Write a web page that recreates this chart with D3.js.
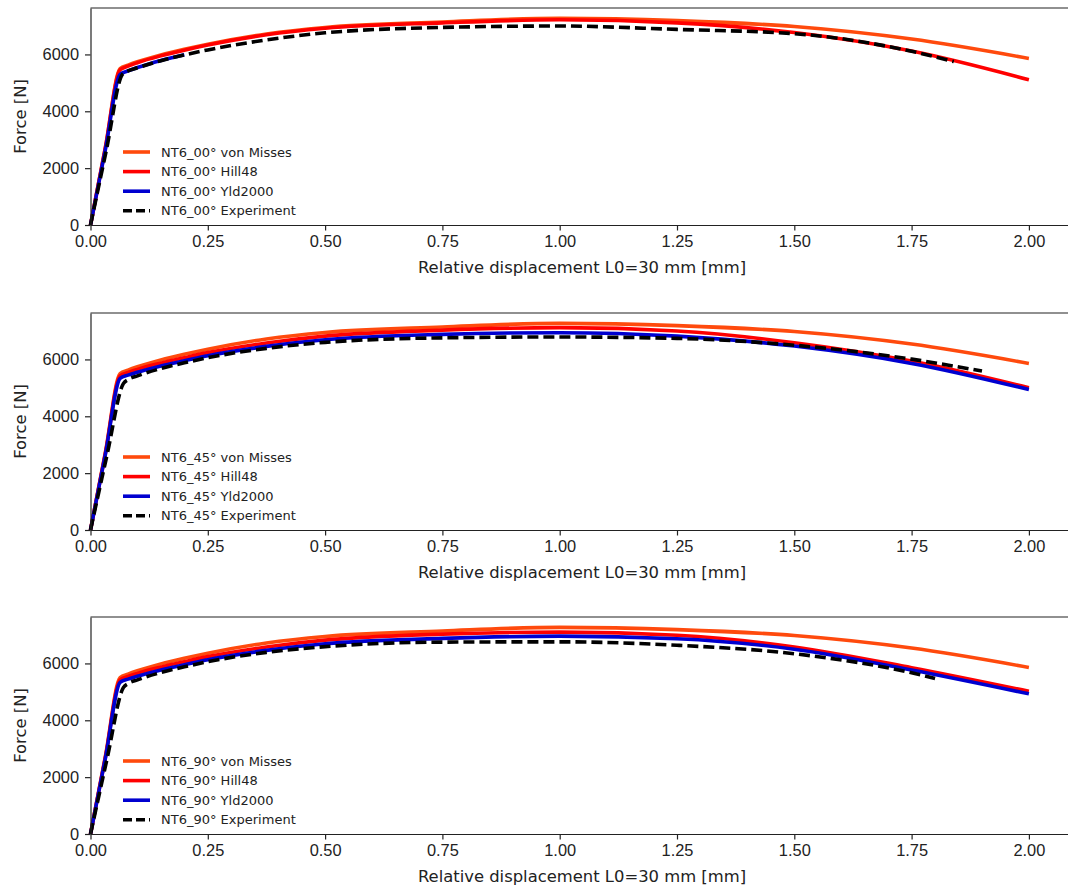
<!DOCTYPE html>
<html>
<head>
	<title>NT6 Force - displacement</title>
	<style type="text/css">
		body {
			margin: 0;
			background: #fff;
		}

		svg {
			display: block;
			font-family: "DejaVu Sans", sans-serif;
		}

		.axis text {
			font-size: 16.4px;
			fill: #222;
		}

		.axis path, .axis line {
			stroke: #222;
			stroke-width: 1.2px;
		}

		.label {
			font-size: 16.4px;
			fill: #222;
		}

		.legend text {
			font-size: 13px;
			fill: #222;
		}

		.curve {
			fill: none;
			stroke-width: 3.6px;
			stroke-linejoin: round;
		}
	</style>
	<script src="https://d3js.org/d3.v7.min.js"></script>
</head>
<body>
<script type="text/javascript">
	// displacement points of the simulations [mm]
	var xModel = [0, 0.032, 0.063, 0.08, 0.1, 0.15, 0.2, 0.25, 0.375, 0.5, 0.75, 1.0, 1.25, 1.5, 1.75, 2.0];

	// von Misses is isotropic, same curve for every direction [N]
	var vonMisses = [0, 2760, 5500, 5620, 5740, 5980, 6180, 6360, 6720, 6950, 7140, 7270, 7190, 6980, 6540, 5860];

	var hill00 = [0, 2740, 5460, 5590, 5710, 5950, 6150, 6330, 6690, 6920, 7110, 7220, 7110, 6770, 6120, 5110];
	var hill45 = [0, 2720, 5420, 5540, 5650, 5870, 6060, 6240, 6580, 6820, 7030, 7120, 7000, 6590, 5940, 5000];
	var hill90 = [0, 2720, 5420, 5540, 5650, 5870, 6060, 6240, 6580, 6820, 7030, 7100, 6990, 6580, 5850, 5020];

	// Yld2000 at 00° stops early
	var xYld00 = [0, 0.032, 0.063, 0.08, 0.1, 0.15, 0.2];
	var yld00 = [0, 2680, 5300, 5420, 5540, 5790, 5990];
	var yld45 = [0, 2690, 5330, 5450, 5550, 5770, 5950, 6130, 6460, 6690, 6880, 6940, 6820, 6470, 5860, 4940];
	var yld90 = [0, 2690, 5330, 5450, 5550, 5770, 5950, 6130, 6460, 6690, 6880, 6960, 6870, 6500, 5770, 4930];

	var xExp00 = [0, 0.034, 0.068, 0.08, 0.1, 0.15, 0.2, 0.25, 0.375, 0.5, 0.75, 1.0, 1.25, 1.5, 1.75, 1.84];
	var exp00 = [0, 2650, 5300, 5420, 5530, 5780, 5980, 6160, 6510, 6760, 6950, 7000, 6880, 6730, 6110, 5750];
	var xExp45 = [0, 0.035, 0.07, 0.08, 0.1, 0.15, 0.2, 0.25, 0.375, 0.5, 0.75, 1.0, 1.25, 1.5, 1.75, 1.9];
	var exp45 = [0, 2620, 5150, 5290, 5420, 5680, 5880, 6060, 6390, 6600, 6760, 6790, 6740, 6500, 6010, 5590];
	var xExp90 = [0, 0.035, 0.07, 0.08, 0.1, 0.15, 0.2, 0.25, 0.375, 0.5, 0.75, 1.0, 1.25, 1.5, 1.75, 1.8];
	var exp90 = [0, 2620, 5150, 5290, 5420, 5680, 5880, 6060, 6390, 6590, 6750, 6760, 6640, 6340, 5670, 5470];

	var xTicks = [0, 0.25, 0.5, 0.75, 1.0, 1.25, 1.5, 1.75, 2.0];
	var yTicks = [0, 2000, 4000, 6000];

	var panels = [
		{dir: "00", top: 8, hill: hill00, yldX: xYld00, yld: yld00, expX: xExp00, exp: exp00},
		{dir: "45", top: 313, hill: hill45, yldX: xModel, yld: yld45, expX: xExp45, exp: exp45},
		{dir: "90", top: 617, hill: hill90, yldX: xModel, yld: yld90, expX: xExp90, exp: exp90}
	];

	var svg = d3.select("body").append("svg")
		.attr("width", 1068)
		.attr("height", 887);

	var left = 90.5,
		height = 217;

	var x = d3.scaleLinear().domain([0, 2.1]).range([left, left + 2.1 * 469.2]);

	var line = d3.line()
		.x(function(d) { return x(d[0]); })
		.y(function(d) { return d[2](d[1]); })
		.curve(d3.curveMonotoneX);

	function pairs(xs, ys, y) {
		return xs.map(function(v, i) { return [v, ys[i], y]; });
	}

	panels.forEach(function(p) {
		var series = [
			{name: "NT6_" + p.dir + "° von Misses", xs: xModel, ys: vonMisses, color: "#ff4a0d", dash: null},
			{name: "NT6_" + p.dir + "° Hill48", xs: xModel, ys: p.hill, color: "#ff0000", dash: null},
			{name: "NT6_" + p.dir + "° Yld2000", xs: p.yldX, ys: p.yld, color: "#0000d0", dash: null},
			{name: "NT6_" + p.dir + "° Experiment", xs: p.expX, ys: p.exp, color: "#000000", dash: "11,5"}
		];

		var ymax = d3.max(series, function(s) { return d3.max(s.ys); }) * 1.05;
		var y = d3.scaleLinear().domain([0, ymax]).range([p.top + height, p.top]);

		var g = svg.append("g");

		g.selectAll(".curve")
			.data(series)
			.enter().append("path")
				.attr("class", "curve")
				.attr("stroke", function(s) { return s.color; })
				.attr("stroke-dasharray", function(s) { return s.dash; })
				.attr("d", function(s) { return line(pairs(s.xs, s.ys, y)); });

		// frame: top spine (right one is outside the picture)
		g.append("line")
			.attr("x1", left).attr("x2", 1068)
			.attr("y1", p.top).attr("y2", p.top)
			.attr("stroke", "#222").attr("stroke-width", 1.2);

		g.append("g")
			.attr("class", "axis")
			.attr("transform", "translate(0," + (p.top + height) + ")")
			.call(d3.axisBottom(x).tickValues(xTicks).tickFormat(d3.format(".2f"))
				.tickSize(5.5).tickSizeOuter(0).tickPadding(4.5));

		g.append("g")
			.attr("class", "axis")
			.attr("transform", "translate(" + left + ",0)")
			.call(d3.axisLeft(y).tickValues(yTicks).tickFormat(d3.format("d"))
				.tickSize(5.5).tickSizeOuter(0).tickPadding(6));

		g.append("text")
			.attr("class", "label")
			.attr("x", 582)
			.attr("y", p.top + height + 48)
			.attr("text-anchor", "middle")
			.text("Relative displacement L0=30 mm [mm]");

		g.append("text")
			.attr("class", "label")
			.attr("transform", "translate(26," + (p.top + height / 2) + ") rotate(-90)")
			.attr("text-anchor", "middle")
			.text("Force [N]");

		var legend = g.append("g")
			.attr("class", "legend")
			.attr("transform", "translate(0," + (p.top + 144) + ")");

		var row = legend.selectAll("g")
			.data(series)
			.enter().append("g")
				.attr("transform", function(s, i) { return "translate(0," + (i * 19.6) + ")"; });

		row.append("line")
			.attr("x1", 123).attr("x2", 150)
			.attr("stroke", function(s) { return s.color; })
			.attr("stroke-width", 3.6)
			.attr("stroke-dasharray", function(s) { return s.dash ? "9,4" : null; });

		row.append("text")
			.attr("x", 161)
			.attr("dy", "0.35em")
			.text(function(s) { return s.name; });
	});
</script>
</body>
</html>
